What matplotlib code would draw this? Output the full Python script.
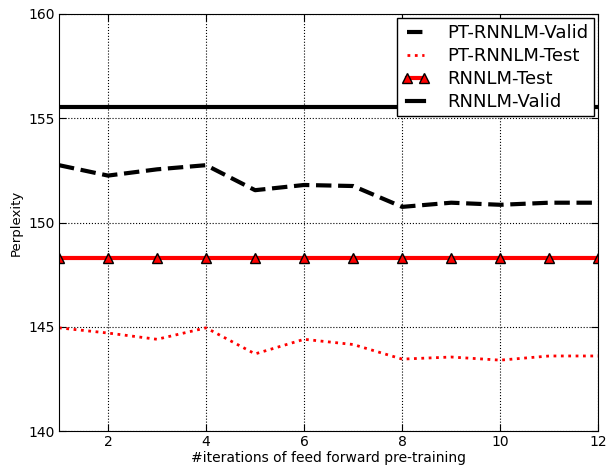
import matplotlib
matplotlib.use('Agg')
import matplotlib.pyplot as plt

# iterations of feed forward pre-training
iters = [1, 2, 3, 4, 5, 6, 7, 8, 9, 10, 11, 12]
pt_valid = [152.75, 152.25, 152.55, 152.75, 151.55, 151.8, 151.75, 150.75, 150.95, 150.85, 150.95, 150.95]
pt_test = [144.95, 144.7, 144.4, 144.95, 143.7, 144.4, 144.15, 143.45, 143.55, 143.4, 143.6, 143.6]
rnnlm_test = 148.3
rnnlm_valid = 155.55

fig = plt.figure(figsize=(6.08, 4.66), dpi=100)
ax = fig.add_axes([0.097, 0.075, 0.887, 0.895])

ax.plot(iters, pt_valid, color='black', linestyle='--', lw=3, label='PT-RNNLM-Valid')
ax.plot(iters, pt_test, color='red', linestyle=':', lw=2, label='PT-RNNLM-Test')
ax.plot(iters, [rnnlm_test] * len(iters), color='red', lw=3, marker='^',
        markersize=7, markerfacecolor='red', markeredgecolor='black',
        label='RNNLM-Test')
ax.plot(iters, [rnnlm_valid] * len(iters), color='black', lw=3, label='RNNLM-Valid')

ax.set_xlim(1, 12)
ax.set_ylim(140, 160)
ax.set_xticks([2, 4, 6, 8, 10, 12])
ax.set_yticks([140, 145, 150, 155, 160])
ax.grid(True, color='black', linestyle=':', lw=0.8)
ax.tick_params(direction='in', labelsize=10, top=True, right=True, length=5, pad=3)
ax.set_xlabel('#iterations of feed forward pre-training', fontsize=10, labelpad=1)
ax.set_ylabel('Perplexity', fontsize=9.5, labelpad=4)

leg = ax.legend(loc='upper right', fontsize=13, numpoints=2, fancybox=False,
                framealpha=1, borderaxespad=0.25, borderpad=0.3,
                labelspacing=0.28, handlelength=1.5, handletextpad=1.0)
leg.get_frame().set_edgecolor('black')

fig.savefig('out.png', dpi=100)
